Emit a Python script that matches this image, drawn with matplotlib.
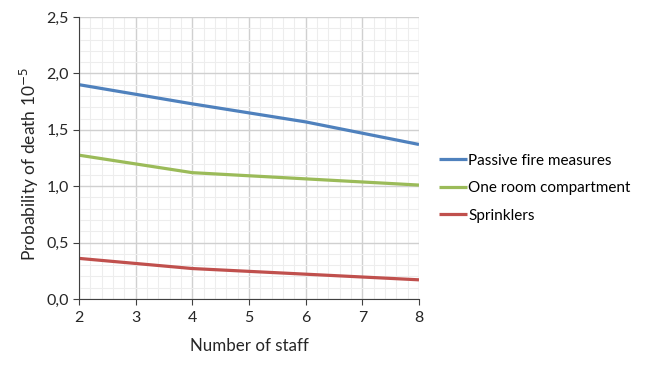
import matplotlib
matplotlib.use('Agg')
import matplotlib.pyplot as plt
from matplotlib.ticker import MultipleLocator, FuncFormatter

plt.rcParams['font.family'] = ['Lato', 'DejaVu Sans']

# Dados
staff = [2, 4, 6, 8]
passive = [1.90, 1.73, 1.57, 1.37]
one_room = [1.275, 1.12, 1.065, 1.01]
sprinklers = [0.36, 0.27, 0.22, 0.17]

fig = plt.figure(figsize=(6.46, 3.73), dpi=100)
ax = fig.add_axes([0.1223, 0.1984, 0.5263, 0.756])

ax.plot(staff, passive, color='#4F81BD', lw=2.3, label='Passive fire measures', solid_capstyle='butt')
ax.plot(staff, one_room, color='#9BBB59', lw=2.3, label='One room compartment', solid_capstyle='butt')
ax.plot(staff, sprinklers, color='#C0504D', lw=2.3, label='Sprinklers', solid_capstyle='butt')

ax.set_xlim(2, 8)
ax.set_ylim(0, 2.5)
ax.xaxis.set_major_locator(MultipleLocator(1))
ax.xaxis.set_minor_locator(MultipleLocator(0.2))
ax.yaxis.set_major_locator(MultipleLocator(0.5))
ax.yaxis.set_minor_locator(MultipleLocator(0.1))
ax.yaxis.set_major_formatter(FuncFormatter(lambda v, p: ('%.1f' % v).replace('.', ',')))

ax.grid(which='major', color='#D0D0D0', lw=1.0)
ax.grid(which='minor', color='#EDEDED', lw=0.8)
ax.set_axisbelow(True)

for s in ['top', 'right']:
    ax.spines[s].set_visible(False)
ax.spines['left'].set_color('#404040')
ax.spines['bottom'].set_color('#404040')
ax.tick_params(which='major', length=4, color='#404040', labelsize=11.5, colors='#262626')
ax.tick_params(axis='x', pad=5)
ax.tick_params(which='minor', length=0)

ax.set_xlabel('Number of staff', fontsize=12.2, color='#262626', labelpad=9)
ax.set_ylabel('Probability of death 10$^{-5}$', fontsize=12.5, color='#262626')
ax.yaxis.set_label_coords(-0.112, 0.48)

leg = fig.legend(loc='upper left', bbox_to_anchor=(0.659, 0.625), frameon=False,
                 fontsize=11, handlelength=1.8, handletextpad=0.1, labelspacing=0.88)

fig.savefig('out.png', dpi=100)
